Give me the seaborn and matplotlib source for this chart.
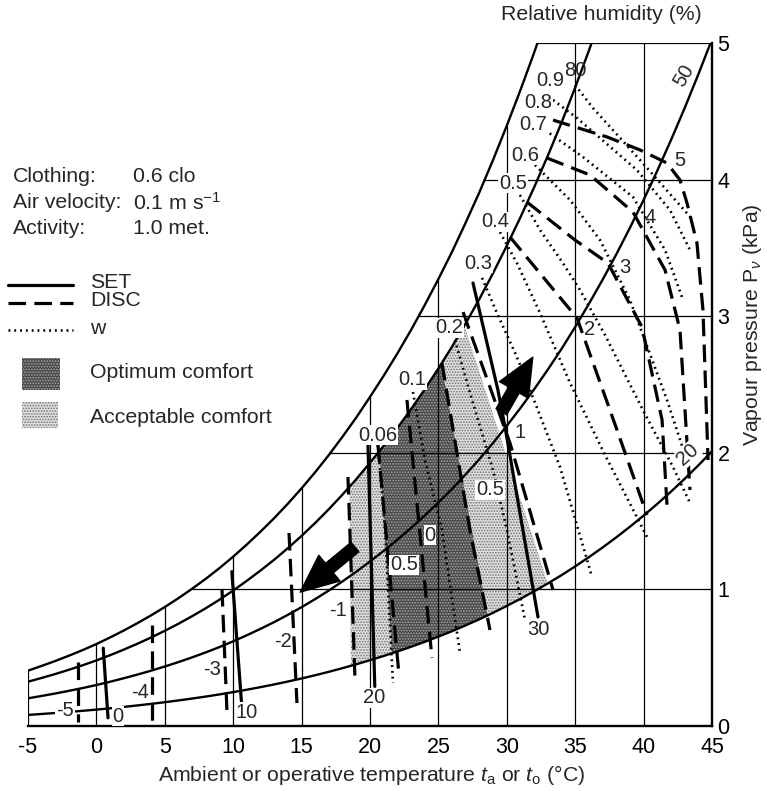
import numpy as np
import matplotlib
matplotlib.use("Agg")
import matplotlib.pyplot as plt
import seaborn as sns
from matplotlib.lines import Line2D
from matplotlib.patches import Polygon, Rectangle

# ---------------- data ----------------
temp_c = list(range(-5, 46))
# saturation vapour pressure (100 % RH curve), kPa
p_sat = [0.405, 0.440, 0.476, 0.515, 0.556, 0.600, 0.648, 0.699, 0.753, 0.810,
         0.871, 0.936, 1.005, 1.078, 1.156, 1.240, 1.329, 1.423, 1.522, 1.628,
         1.740, 1.859, 1.985, 2.119, 2.259, 2.409, 2.564, 2.727, 2.899, 3.081,
         3.272, 3.472, 3.686, 3.908, 4.145, 4.395, 4.656, 4.930, 5.219, 5.521,
         5.843, 6.180, 6.533, 6.904, 7.294, 7.702, 8.130, 8.578, 9.047, 9.540,
         10.055]
rh_levels = [100, 80, 50, 20]

x_ticks = [-5, 0, 5, 10, 15, 20, 25, 30, 35, 40, 45]
y_ticks = [0, 1, 2, 3, 4, 5]

# SET lines (solid)
set_labels = ["0", "10", "20", "30"]
set_t = [[0.5, 0.85], [9.9, 10.6], [19.85, 20.35], [27.53, 29.35, 29.87, 32.28]]
set_p = [[0.57, 0.06], [1.13, 0.18], [2.06, 0.29], [3.243, 2.46, 2.189, 0.798]]
set_label_t = [1.58, 11.01, 20.29, 32.28]
set_label_p = [0.073, 0.102, 0.205, 0.703]

# DISC lines (dashed)
disc_labels = ["-5", "-4", "-3", "-2", "-1", "0.5", "0", "0.5", "1", "2", "3", "4", "5"]
disc_t = [[-1.35, -1.35], [4.06, 4.06], [9.18, 9.55], [14.08, 14.66], [18.39, 18.9],
          [20.58, 22.12], [22.7, 23.66, 24.53], [25.26, 27.3, 28.77],
          [26.8, 30.23, 33.38], [30.23, 35.13, 37.54, 40.25],
          [31.47, 34.98, 37.39, 39.88, 41.35, 41.71],
          [32.94, 36.08, 39.22, 41.57, 42.66, 43.39],
          [33.38, 37.33, 39.74, 41.71, 42.66, 43.17, 43.9, 44.34, 44.71]]
disc_p = [[0.469, 0.029], [0.739, 0.029], [1.003, 0.095], [1.413, 0.168], [1.823, 0.351],
          [2.057, 0.373], [2.387, 1.398, 0.498], [2.657, 1.435, 0.703],
          [3.03, 2.072, 0.996], [3.58, 2.987, 2.313, 1.544],
          [3.836, 3.558, 3.389, 2.921, 2.24, 1.618],
          [4.158, 4.034, 3.763, 3.338, 2.899, 1.728],
          [4.436, 4.312, 4.217, 4.121, 3.997, 3.829, 3.536, 3.045, 1.947]]
disc_label_t = [-2.3, 3.19, 8.45, 13.64, 17.66, 22.48, 24.38, 28.77, 30.96, 36.08, 38.64, 40.47, 42.66]
disc_label_p = [0.117, 0.242, 0.41, 0.615, 0.849, 1.179, 1.398, 1.728, 2.152, 2.899, 3.36, 3.719, 4.143]
disc_boxed = [True, False, False, False, False, True, True, True, False, False, False, False, False]

# skin wettedness w (dotted)
w_labels = ["0.06", "0.1", "0.2", "0.3", "0.4", "0.5", "0.6", "0.7", "0.8", "0.9"]
w_t = [[20.58, 21.1, 21.68], [23.14, 24.02, 25.26, 26.58],
       [26.21, 27.31, 28.99, 30.01, 31.33],
       [28.19, 29.28, 30.74, 31.7, 33.89, 36.23],
       [29.5, 30.74, 32.43, 34.62, 37.18, 40.25],
       [30.96, 32.43, 34.1, 35.35, 37.18, 39.95, 42.15, 43.39],
       [32.06, 34.62, 36.81, 39.0, 41.71, 43.39],
       [32.79, 35.57, 39.22, 41.57, 42.88],
       [33.38, 35.13, 39.51, 41.93, 43.39],
       [34.99, 36.3, 39.74, 43.61]]
w_p = [[2.057, 1.435, 0.315], [2.445, 1.947, 1.435, 0.534],
       [2.826, 2.438, 1.874, 1.435, 0.776],
       [3.28, 3.023, 2.701, 2.46, 1.896, 1.091],
       [3.616, 3.389, 3.023, 2.511, 1.984, 1.384],
       [3.887, 3.631, 3.389, 3.192, 2.862, 2.313, 1.896, 1.633],
       [4.107, 3.851, 3.558, 3.119, 2.387, 1.874],
       [4.363, 4.165, 3.873, 3.485, 3.119],
       [4.583, 4.451, 4.07, 3.777, 3.485],
       [4.693, 4.524, 4.143, 3.704]]
w_label_t = [20.58, 23.07, 25.77, 27.89, 29.14, 30.45, 31.33, 31.91, 32.28, 33.16]
w_label_p = [2.13, 2.533, 2.914, 3.389, 3.69, 3.975, 4.18, 4.4, 4.561, 4.729]

# comfort zones: temperatures of the edges on the 80 % and 20 % RH curves
optimum_t80 = [20.7, 25.2]
optimum_t20 = [21.6, 28.6]
acceptable_t80 = [18.5, 26.9]
acceptable_t20 = [18.6, 33.0]

# arrows (tail -> tip)
arrow_tail_t = [18.9, 29.6]
arrow_tail_p = [1.31, 2.30]
arrow_tip_t = [14.9, 31.9]
arrow_tip_p = [0.98, 2.70]

rh_label_text = ["80", "50", "20"]
rh_label_t = [34.99, 42.95, 43.25]
rh_label_p = [4.80, 4.76, 1.99]
rh_label_rot = [0, 60, 42]
rh_label_boxed = [False, False, True]

# ---------------- style ----------------
sns.set_theme(style="white")
plt.rcParams["font.family"] = ["Liberation Sans", "DejaVu Sans"]
plt.rcParams["mathtext.fontset"] = "custom"
plt.rcParams["mathtext.rm"] = "Liberation Sans"
plt.rcParams["mathtext.it"] = "Liberation Sans:italic"
plt.rcParams["hatch.linewidth"] = 0.8

W, H = 767, 791
fig = plt.figure(figsize=(W / 100, H / 100), dpi=100)
ax = fig.add_axes([28 / W, 1 - 726 / H, (712 - 28) / W, (726 - 43) / H])
ax.set_xlim(-5, 45)
ax.set_ylim(0, 5)


def fx(x, y):
    return x / W, 1 - y / H


T = np.array(temp_c, float)
PS = np.array(p_sat, float)
K = "black"
DASH = (0, (5.5, 2.6))
DOT = (0, (0.7, 1.5))


def draw(t, p, **kw):
    sns.lineplot(x=list(t), y=list(p), sort=False, estimator=None, ax=ax, color=K, **kw)


# grid clipped under the saturation curve
for t in x_ticks[1:-1]:
    top = min(PS[temp_c.index(t)], 5)
    draw([t, t], [0, top], lw=0.9, zorder=1)
for p in y_ticks[1:]:
    draw([np.interp(p, PS, T), 45], [p, p], lw=0.9 if p < 5 else 1.6, zorder=1)
draw([-5, -5], [0, PS[0]], lw=1.6, zorder=2)


# comfort zones
def zone(t80, t20):
    ut = [t80[0]] + [t for t in temp_c if t80[0] < t < t80[1]] + [t80[1]]
    lt = [t20[1]] + [t for t in temp_c[::-1] if t20[0] < t < t20[1]] + [t20[0]]
    up = 0.8 * np.interp(ut, T, PS)
    lp = 0.2 * np.interp(lt, T, PS)
    return np.column_stack([np.r_[ut, lt], np.r_[up, lp]])


light_kw = dict(facecolor="#e0e0e0", edgecolor="#707070", hatch="......", lw=0)
dark_kw = dict(facecolor="#4a4a4a", edgecolor="#a8a8a8", hatch="......", lw=0)
ax.add_patch(Polygon(zone(acceptable_t80, acceptable_t20), closed=True, zorder=0.5, **light_kw))
ax.add_patch(Polygon(zone(optimum_t80, optimum_t20), closed=True, zorder=0.6, **dark_kw))

# RH curves
for rh in rh_levels:
    p = PS * rh / 100
    m = p <= 5
    tc, pc = list(T[m]), list(p[m])
    if not m.all():
        tc.append(float(np.interp(5, p, T)))
        pc.append(5.0)
    draw(tc, pc, lw=1.7, zorder=2)

# SET, DISC, w lines
for t, p in zip(set_t, set_p):
    draw(t, p, lw=2.3, zorder=3)
for t, p in zip(disc_t, disc_p):
    draw(t, p, lw=2.3, linestyle=DASH, zorder=3)
for t, p in zip(w_t, w_p):
    draw(t, p, lw=1.9, linestyle=DOT, zorder=3)

FS = 14.5
box = dict(facecolor="white", edgecolor="none", pad=0.6)
for s, t, p in zip(set_labels, set_label_t, set_label_p):
    ax.text(t, p, s, fontsize=FS, ha="center", va="center", zorder=5, bbox=box)
for s, t, p, b in zip(disc_labels, disc_label_t, disc_label_p, disc_boxed):
    ax.text(t, p, s, fontsize=FS, ha="center", va="center", zorder=5,
            bbox=box if b else None)
for s, t, p in zip(w_labels, w_label_t, w_label_p):
    ax.text(t, p, s, fontsize=FS, ha="center", va="center", zorder=5, bbox=box)
for s, t, p, r, b in zip(rh_label_text, rh_label_t, rh_label_p, rh_label_rot, rh_label_boxed):
    ax.text(t, p, s, fontsize=FS, ha="center", va="center", rotation=r, zorder=5,
            bbox=dict(facecolor="white", edgecolor="none", pad=0.2) if b else None)

for tt, tp, ht, hp in zip(arrow_tail_t, arrow_tail_p, arrow_tip_t, arrow_tip_p):
    ax.annotate("", xy=(ht, hp), xytext=(tt, tp), zorder=6,
                arrowprops=dict(arrowstyle="simple,head_width=1.5,head_length=1.7,tail_width=0.55",
                                color="black", mutation_scale=16, shrinkA=0, shrinkB=0))

# axes
for s in ["top", "left"]:
    ax.spines[s].set_visible(False)
for s in ["bottom", "right"]:
    ax.spines[s].set_visible(True)
    ax.spines[s].set_linewidth(1.7)
    ax.spines[s].set_color(K)
ax.set_xticks(x_ticks)
ax.set_xticklabels([str(v) for v in x_ticks])
ax.set_yticks(y_ticks)
ax.set_yticklabels([str(v) for v in y_ticks])
ax.yaxis.tick_right()
ax.tick_params(axis="x", length=0, pad=8, labelsize=15.5, colors=K)
ax.tick_params(axis="y", length=0, pad=4, labelsize=15.5, colors=K)
ax.grid(False)

TS = 15.3
fig.text(*fx(372, 775), r"Ambient or operative temperature $t_{\rm a}$ or $t_{\rm o}$ (°C)",
         fontsize=TS, ha="center", va="center")
fig.text(*fx(752, 325), r"Vapour pressure P$_\nu$ (kPa)", fontsize=TS, rotation=90,
         ha="center", va="center")
fig.text(*fx(601, 15), "Relative humidity (%)", fontsize=TS, ha="center", va="center")

fig.text(*fx(13, 177), "Clothing:", fontsize=TS, va="center")
fig.text(*fx(133, 177), "0.6 clo", fontsize=TS, va="center")
fig.text(*fx(13, 203), "Air velocity:", fontsize=TS, va="center")
fig.text(*fx(133, 203), r"0.1 m s$^{-1}$", fontsize=TS, va="center")
fig.text(*fx(13, 228), "Activity:", fontsize=TS, va="center")
fig.text(*fx(133, 228), "1.0 met.", fontsize=TS, va="center")

leg = [("SET", 285, "-"), ("DISC", 303, DASH), ("w", 330, DOT)]
for name, y, ls in leg:
    x0, y0 = fx(8, y)
    x1, _ = fx(73, y)
    fig.add_artist(Line2D([x0, x1], [y0, y0], color=K, lw=2.3 if name != "w" else 1.9,
                          linestyle=ls, transform=fig.transFigure))
    fig.text(*fx(90, y - 2), name, fontsize=TS, va="center")

x0, y0 = fx(22, 390)
fig.add_artist(Rectangle((x0, y0), 38 / W, 32 / H, transform=fig.transFigure, **dark_kw))
fig.text(*fx(90, 372), "Optimum comfort", fontsize=TS, va="center")
x0, y0 = fx(22, 428)
fig.add_artist(Rectangle((x0, y0), 36 / W, 26 / H, transform=fig.transFigure, **light_kw))
fig.text(*fx(90, 418), "Acceptable comfort", fontsize=TS, va="center")

fig.savefig("out.png", dpi=100)
